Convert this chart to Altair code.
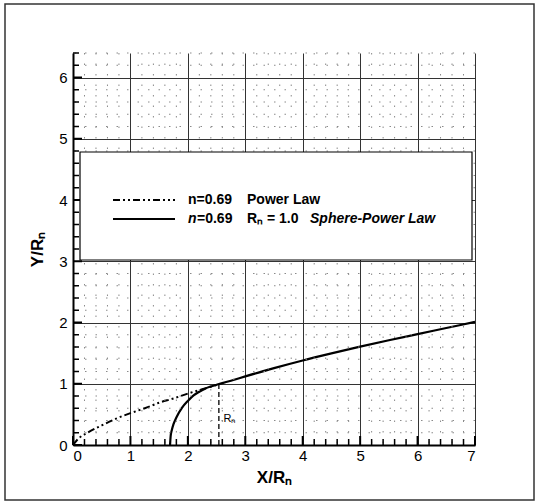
import altair as alt
import pandas as pd

# ---- data ----
# Power law body, n = 0.69 (dash-dot-dot curve)
pl_x = [0.0, 0.1, 0.25, 0.5, 0.75, 1.0, 1.25, 1.5, 1.75, 2.0, 2.25, 2.5]
pl_y = [0.0, 0.11, 0.20, 0.32, 0.43, 0.52, 0.60, 0.69, 0.76, 0.84, 0.91, 0.98]

# Sphere-power law body, n = 0.69, Rn = 1.0 (solid curve)
sp_x = [1.69, 1.70, 1.72, 1.75, 1.80, 1.90, 2.00, 2.10, 2.20, 2.30, 2.40, 2.50,
        2.60, 2.75, 3.00, 3.50, 4.00, 4.50, 5.00, 5.50, 6.00, 6.50, 7.00]
sp_y = [0.00, 0.14, 0.24, 0.34, 0.45, 0.61, 0.72, 0.81, 0.87, 0.92, 0.955, 0.983,
        1.01, 1.05, 1.12, 1.255, 1.38, 1.495, 1.605, 1.71, 1.81, 1.91, 2.01]

# Nose radius marker
rn_x = [2.54, 2.54]
rn_y = [0.0, 0.99]

# Axis ticks
x_major = [0, 1, 2, 3, 4, 5, 6, 7]
y_major = [0, 1, 2, 3, 4, 5, 6]
x_minor = [round(i * 0.2, 2) for i in range(36) if i % 5 != 0]
y_minor = [round(i * 0.2, 2) for i in range(33) if i % 5 != 0]

W, H = 402, 392
FONT = "Liberation Sans"

xs = alt.Scale(domain=[0, 7], nice=False, zero=False)
ys = alt.Scale(domain=[0, 6.4], nice=False, zero=False)

x_axis = alt.Axis(
    values=x_major, grid=True, gridColor="#333333", gridWidth=1,
    domainColor="black", domainWidth=2, ticks=False,
    labelFont=FONT, labelFontSize=15, labelColor="black", labelPadding=3,
    title="X/Rₙ", titleFont=FONT, titleFontSize=17, titleFontWeight="bold",
    titleColor="black", titlePadding=6)
y_axis = alt.Axis(
    values=y_major, grid=True, gridColor="#333333", gridWidth=1,
    domainColor="black", domainWidth=2, ticks=False,
    labelFont=FONT, labelFontSize=15, labelColor="black", labelPadding=6,
    title="Y/Rₙ", titleFont=FONT, titleFontSize=17, titleFontWeight="bold",
    titleColor="black", titlePadding=12)


def X(f="x:Q"):
    return alt.X(f, scale=xs, axis=x_axis)


def Y(f="y:Q"):
    return alt.Y(f, scale=ys, axis=y_axis)


one = pd.DataFrame({"k": [0]})

# main curves (carry the axes)
power = alt.Chart(pd.DataFrame({"x": pl_x, "y": pl_y})).mark_line(
    color="black", strokeWidth=2, strokeDash=[7, 3, 2, 3, 2, 3], interpolate="monotone"
).encode(x=X(), y=Y())

sphere = alt.Chart(pd.DataFrame({"x": sp_x, "y": sp_y})).mark_line(
    color="black", strokeWidth=2.2, interpolate="monotone"
).encode(x=X(), y=Y())

# minor dotted grid
minor_gx = alt.Chart(pd.DataFrame({"x": x_minor})).mark_rule(
    color="#8a8a8a", strokeWidth=1, strokeDash=[1.5, 9]
).encode(x=X())
minor_gy = alt.Chart(pd.DataFrame({"y": y_minor})).mark_rule(
    color="#8a8a8a", strokeWidth=1, strokeDash=[1.5, 9]
).encode(y=Y())

rn_line = alt.Chart(pd.DataFrame({"x": rn_x, "y": rn_y})).mark_line(
    color="black", strokeWidth=1.3, strokeDash=[5, 3]
).encode(x=X(), y=Y())

rn_label = alt.Chart(pd.DataFrame({"x": [2.62], "y": [0.42], "t": ["Rₙ"]})).mark_text(
    font=FONT, fontSize=11, align="left", baseline="middle", color="black"
).encode(x=X(), y=Y(), text="t:N")

# inward ticks
tick_xminor = alt.Chart(pd.DataFrame({"x": x_minor})).mark_rule(
    color="black", strokeWidth=1.5
).encode(x=X(), y=alt.value(H), y2=alt.value(H - 6))
tick_xmajor = alt.Chart(pd.DataFrame({"x": x_major})).mark_rule(
    color="black", strokeWidth=2
).encode(x=X(), y=alt.value(H), y2=alt.value(H - 9))
tick_yminor = alt.Chart(pd.DataFrame({"y": y_minor})).mark_rule(
    color="black", strokeWidth=1.5
).encode(y=Y(), x=alt.value(0), x2=alt.value(6))
tick_ymajor = alt.Chart(pd.DataFrame({"y": y_major})).mark_rule(
    color="black", strokeWidth=2
).encode(y=Y(), x=alt.value(0), x2=alt.value(9))

# legend box
leg_box = alt.Chart(one).mark_rect(
    fill="white", stroke="black", strokeWidth=1.2
).encode(x=alt.value(7), x2=alt.value(399), y=alt.value(99), y2=alt.value(207))

leg_l1 = alt.Chart(one).mark_rule(
    color="black", strokeWidth=2, strokeDash=[7, 3, 2, 3, 2, 3]
).encode(x=alt.value(40), x2=alt.value(102), y=alt.value(147))
leg_l2 = alt.Chart(one).mark_rule(color="black", strokeWidth=2).encode(
    x=alt.value(40), x2=alt.value(102), y=alt.value(166))


def txt(s, x, y, italic=False, size=14):
    return alt.Chart(one).mark_text(
        font=FONT, fontSize=size, fontWeight="bold",
        fontStyle="italic" if italic else "normal",
        align="left", baseline="middle", color="black"
    ).encode(x=alt.value(x), y=alt.value(y), text=alt.value(s))


legend_texts = [
    txt("n=0.69", 115, 147),
    txt("Power Law", 174, 147),
    txt("n", 115, 166, italic=True),
    txt("=0.69", 124, 166),
    txt("Rₙ = 1.0", 174, 166),
    txt("Sphere-Power Law", 237, 166, italic=True),
]

# outer figure frame
frame = alt.Chart(one).mark_rect(
    fill="white", fillOpacity=0, stroke="#333333", strokeWidth=1.5
).encode(x=alt.value(-68), x2=alt.value(461), y=alt.value(-49), y2=alt.value(447))

chart = alt.layer(
    power, sphere, minor_gx, minor_gy, rn_line, rn_label,
    tick_xminor, tick_xmajor, tick_yminor, tick_ymajor,
    leg_box, leg_l1, leg_l2, *legend_texts, frame
).properties(
    width=W, height=H,
    autosize=alt.AutoSizeParams(type="none"),
    padding={"left": 73, "top": 53, "right": 62, "bottom": 58},
    background="white",
).configure_view(stroke=None)

chart.save("out.html", embed_options={"renderer": "svg", "actions": False})
